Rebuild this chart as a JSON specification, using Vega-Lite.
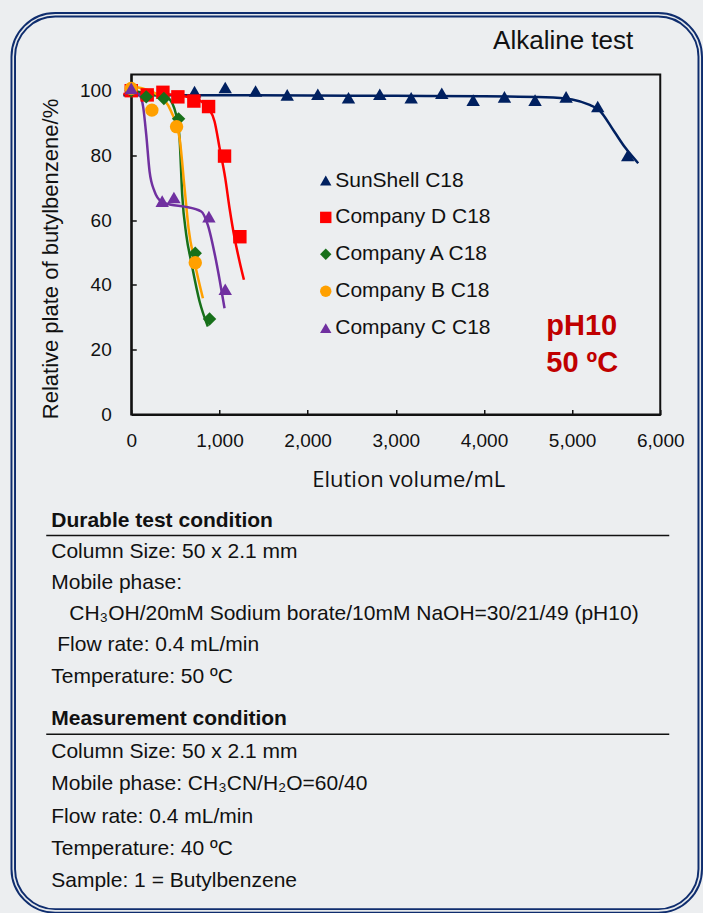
{
  "$schema": "https://vega.github.io/schema/vega-lite/v6.json",
  "background": "#eceef0",
  "padding": {"left": 9.25, "top": 10.5, "right": 0, "bottom": 0},
  "bounds": "flush",
  "spacing": 90.4,
  "config": {
    "view": {"stroke": null},
    "font": "Liberation Sans",
    "axis": {
      "grid": false,
      "labelFont": "Liberation Sans",
      "labelFontSize": 19,
      "labelColor": "#111111",
      "labelFlush": false,
      "domainColor": "#111111",
      "domainWidth": 2,
      "tickColor": "#111111",
      "tickWidth": 1.5,
      "tickSize": -5,
      "labelPadding": 22,
      "titleColor": "#111111",
      "titleFontWeight": "normal"
    }
  },
  "datasets": {
    "points": [
      {"column": "SunShell C18", "volume": 0, "plate": 100},
      {"column": "SunShell C18", "volume": 718, "plate": 99.7},
      {"column": "SunShell C18", "volume": 1066, "plate": 101},
      {"column": "SunShell C18", "volume": 1410, "plate": 99.9},
      {"column": "SunShell C18", "volume": 1769, "plate": 98.7},
      {"column": "SunShell C18", "volume": 2116, "plate": 98.9},
      {"column": "SunShell C18", "volume": 2464, "plate": 97.8},
      {"column": "SunShell C18", "volume": 2819, "plate": 98.9},
      {"column": "SunShell C18", "volume": 3175, "plate": 97.8},
      {"column": "SunShell C18", "volume": 3522, "plate": 99.2},
      {"column": "SunShell C18", "volume": 3878, "plate": 97.1},
      {"column": "SunShell C18", "volume": 4233, "plate": 98.1},
      {"column": "SunShell C18", "volume": 4580, "plate": 97.1},
      {"column": "SunShell C18", "volume": 4932, "plate": 98.1},
      {"column": "SunShell C18", "volume": 5291, "plate": 95.1},
      {"column": "SunShell C18", "volume": 5631, "plate": 80},
      {"column": "Company D C18", "volume": 0, "plate": 100},
      {"column": "Company D C18", "volume": 181, "plate": 98.7},
      {"column": "Company D C18", "volume": 359, "plate": 99.5},
      {"column": "Company D C18", "volume": 529, "plate": 98.1},
      {"column": "Company D C18", "volume": 710, "plate": 96.8},
      {"column": "Company D C18", "volume": 877, "plate": 95.1},
      {"column": "Company D C18", "volume": 1058, "plate": 79.8},
      {"column": "Company D C18", "volume": 1232, "plate": 54.9},
      {"column": "Company A C18", "volume": 0, "plate": 100},
      {"column": "Company A C18", "volume": 170, "plate": 98.1},
      {"column": "Company A C18", "volume": 370, "plate": 97.6},
      {"column": "Company A C18", "volume": 537, "plate": 91.3},
      {"column": "Company A C18", "volume": 726, "plate": 49.8},
      {"column": "Company A C18", "volume": 888, "plate": 29.5},
      {"column": "Company B C18", "volume": 0, "plate": 100.7},
      {"column": "Company B C18", "volume": 234, "plate": 94},
      {"column": "Company B C18", "volume": 514, "plate": 88.9},
      {"column": "Company B C18", "volume": 726, "plate": 46.9},
      {"column": "Company C C18", "volume": 0, "plate": 100.7},
      {"column": "Company C C18", "volume": 351, "plate": 65.9},
      {"column": "Company C C18", "volume": 484, "plate": 67},
      {"column": "Company C C18", "volume": 881, "plate": 61.1},
      {"column": "Company C C18", "volume": 1066, "plate": 38.7}
    ],
    "fits": [
      {"column": "SunShell C18", "volume": -90, "plate": 98.6},
      {"column": "SunShell C18", "volume": 1000, "plate": 98.6},
      {"column": "SunShell C18", "volume": 2000, "plate": 98.5},
      {"column": "SunShell C18", "volume": 3000, "plate": 98.4},
      {"column": "SunShell C18", "volume": 4000, "plate": 98.3},
      {"column": "SunShell C18", "volume": 4700, "plate": 98.0},
      {"column": "SunShell C18", "volume": 5000, "plate": 97.3},
      {"column": "SunShell C18", "volume": 5200, "plate": 95.6},
      {"column": "SunShell C18", "volume": 5300, "plate": 94.2},
      {"column": "SunShell C18", "volume": 5480, "plate": 87.3},
      {"column": "SunShell C18", "volume": 5600, "plate": 82.5},
      {"column": "SunShell C18", "volume": 5750, "plate": 77.6},
      {"column": "Company D C18", "volume": -90, "plate": 99},
      {"column": "Company D C18", "volume": 300, "plate": 99},
      {"column": "Company D C18", "volume": 600, "plate": 98.3},
      {"column": "Company D C18", "volume": 794, "plate": 96.7},
      {"column": "Company D C18", "volume": 877, "plate": 94.6},
      {"column": "Company D C18", "volume": 945, "plate": 90.5},
      {"column": "Company D C18", "volume": 1002, "plate": 82.3},
      {"column": "Company D C18", "volume": 1066, "plate": 73},
      {"column": "Company D C18", "volume": 1115, "plate": 63.7},
      {"column": "Company D C18", "volume": 1172, "plate": 54.5},
      {"column": "Company D C18", "volume": 1229, "plate": 47.2},
      {"column": "Company D C18", "volume": 1278, "plate": 41.6},
      {"column": "Company A C18", "volume": 19, "plate": 100},
      {"column": "Company A C18", "volume": 200, "plate": 99},
      {"column": "Company A C18", "volume": 416, "plate": 97.7},
      {"column": "Company A C18", "volume": 510, "plate": 92.5},
      {"column": "Company A C18", "volume": 548, "plate": 85.3},
      {"column": "Company A C18", "volume": 578, "plate": 67.8},
      {"column": "Company A C18", "volume": 624, "plate": 55.5},
      {"column": "Company A C18", "volume": 680, "plate": 47.2},
      {"column": "Company A C18", "volume": 775, "plate": 34.9},
      {"column": "Company A C18", "volume": 869, "plate": 27.2},
      {"column": "Company B C18", "volume": 38, "plate": 101.2},
      {"column": "Company B C18", "volume": 302, "plate": 98.7},
      {"column": "Company B C18", "volume": 454, "plate": 93.5},
      {"column": "Company B C18", "volume": 548, "plate": 85.3},
      {"column": "Company B C18", "volume": 605, "plate": 69.8},
      {"column": "Company B C18", "volume": 650, "plate": 57.5},
      {"column": "Company B C18", "volume": 718, "plate": 47.2},
      {"column": "Company B C18", "volume": 813, "plate": 35.9},
      {"column": "Company C C18", "volume": 38, "plate": 99.5},
      {"column": "Company C C18", "volume": 94, "plate": 98.7},
      {"column": "Company C C18", "volume": 135, "plate": 95},
      {"column": "Company C C18", "volume": 170, "plate": 86.4},
      {"column": "Company C C18", "volume": 208, "plate": 75},
      {"column": "Company C C18", "volume": 264, "plate": 68.9},
      {"column": "Company C C18", "volume": 340, "plate": 65.8},
      {"column": "Company C C18", "volume": 450, "plate": 64.8},
      {"column": "Company C C18", "volume": 605, "plate": 64.2},
      {"column": "Company C C18", "volume": 794, "plate": 62.7},
      {"column": "Company C C18", "volume": 869, "plate": 58.5},
      {"column": "Company C C18", "volume": 964, "plate": 47.2},
      {"column": "Company C C18", "volume": 1058, "plate": 32.8}
    ],
    "durable": [
      {"line": 0, "kind": "header", "text": "Durable test condition"},
      {"line": 1, "kind": "body", "text": "Column Size: 50 x 2.1 mm"},
      {"line": 2, "kind": "body", "text": "Mobile phase:"},
      {"line": 3, "kind": "composition", "text": "CH\u2083OH/20mM Sodium borate/10mM NaOH=30/21/49 (pH10)"},
      {"line": 4, "kind": "flow", "text": "Flow rate: 0.4 mL/min"},
      {"line": 5, "kind": "body", "text": "Temperature: 50 \u00baC"}
    ],
    "measurement": [
      {"line": 0, "kind": "header", "text": "Measurement condition"},
      {"line": 1, "kind": "body", "text": "Column Size: 50 x 2.1 mm"},
      {"line": 2, "kind": "body", "text": "Mobile phase: CH\u2083CN/H\u2082O=60/40"},
      {"line": 3, "kind": "body", "text": "Flow rate: 0.4 mL/min"},
      {"line": 4, "kind": "body", "text": "Temperature: 40 \u00baC"},
      {"line": 5, "kind": "body", "text": "Sample: 1 = Butylbenzene"}
    ]
  },
  "vconcat": [
    {
      "width": 529,
      "height": 340,
      "view": {"stroke": "#111111", "strokeWidth": 2},
      "layer": [
        {
          "data": {"name": "fits"},
          "mark": {"type": "line", "interpolate": "monotone", "strokeWidth": 2.5},
          "encoding": {
            "x": {"field": "volume", "type": "quantitative", "title": "Elution volume/mL",
                  "scale": {"domain": [0, 6000], "nice": false, "zero": false}},
            "y": {"field": "plate", "type": "quantitative", "title": "Relative plate of butylbenzene/%",
                  "scale": {"domain": [0, 105], "nice": false}},
            "stroke": {"field": "column", "type": "nominal", "legend": null,
                       "scale": {"domain": ["Company A C18", "Company B C18", "Company C C18", "Company D C18", "SunShell C18"],
                                 "range": ["#17701a", "#ffa000", "#7030a0", "#ff0000", "#002060"]}}
          }
        },
        {
          "data": {"name": "points"},
          "mark": {"type": "point", "filled": true, "size": 180, "opacity": 1},
          "encoding": {
            "x": {"field": "volume", "type": "quantitative", "title": "Elution volume/mL",
                  "scale": {"domain": [0, 6000], "nice": false, "zero": false},
                  "axis": {"values": [0, 1000, 2000, 3000, 4000, 5000, 6000], "format": ",d",
                           "titleFont": "Open Sans", "titleFontSize": 22, "titlePadding": 19, "titleX": 277}},
            "y": {"field": "plate", "type": "quantitative", "title": "Relative plate of butylbenzene/%",
                  "scale": {"domain": [0, 105], "nice": false},
                  "axis": {"values": [0, 20, 40, 60, 80, 100], "titleFont": "Liberation Sans", "titleFontSize": 22,
                           "labelPadding": 25, "titlePadding": 17, "titleY": 184}},
            "color": {"field": "column", "type": "nominal", "title": null,
                      "scale": {"domain": ["SunShell C18", "Company D C18", "Company A C18", "Company B C18", "Company C C18"],
                                "range": ["#002060", "#ff0000", "#17701a", "#ffa000", "#7030a0"]},
                      "legend": {"orient": "none", "legendX": 184, "legendY": 95.5, "padding": 0,
                                 "labelFont": "Liberation Sans", "labelFontSize": 21, "labelColor": "#111111",
                                 "labelLimit": 300, "symbolSize": 130, "symbolStrokeWidth": 0,
                                 "rowPadding": 14.9, "labelOffset": -1}},
            "shape": {"field": "column", "type": "nominal", "title": null,
                      "scale": {"domain": ["SunShell C18", "Company D C18", "Company A C18", "Company B C18", "Company C C18"],
                                "range": ["triangle-up", "square", "diamond", "circle", "triangle-up"]},
                      "legend": {"orient": "none", "legendX": 184, "legendY": 95.5, "padding": 0,
                                 "labelFont": "Liberation Sans", "labelFontSize": 21, "labelColor": "#111111",
                                 "labelLimit": 300, "symbolSize": 130, "symbolStrokeWidth": 0,
                                 "rowPadding": 14.9, "labelOffset": -1}}
          }
        },
        {
          "data": {"values": [{"note": "condition"}]},
          "mark": {"type": "text", "align": "left", "baseline": "middle", "font": "Liberation Sans",
                   "fontSize": 29, "fontWeight": "bold", "color": "#c00000", "lineHeight": 36.7},
          "encoding": {
            "x": {"datum": 4707, "type": "quantitative"},
            "y": {"datum": 27.2, "type": "quantitative"},
            "text": {"value": ["pH10", "50 \u00baC"]}
          }
        },
        {
          "data": {"values": [{"note": "title"}]},
          "mark": {"type": "text", "align": "right", "baseline": "middle", "font": "Liberation Sans",
                   "fontSize": 26, "color": "#111111"},
          "encoding": {
            "x": {"datum": 5694, "type": "quantitative"},
            "y": {"datum": 115.2, "type": "quantitative"},
            "text": {"value": "Alkaline test"}
          }
        },
        {
          "data": {"values": [{"frame": "border"}]},
          "mark": {"type": "rect", "filled": false, "stroke": "#0f2d6e", "strokeWidth": 5.5, "cornerRadius": 42},
          "encoding": {
            "x": {"datum": -1338.4, "type": "quantitative"},
            "x2": {"datum": 6453.6},
            "y": {"datum": 123.44, "type": "quantitative"},
            "y2": {"datum": -153.3}
          }
        },
        {
          "data": {"values": [{"frame": "border"}]},
          "mark": {"type": "rect", "filled": false, "stroke": "#e6e9ec", "strokeWidth": 1.6, "cornerRadius": 42},
          "encoding": {
            "x": {"datum": -1338.4, "type": "quantitative"},
            "x2": {"datum": 6453.6},
            "y": {"datum": 123.44, "type": "quantitative"},
            "y2": {"datum": -153.3}
          }
        }
      ]
    },
    {
      "bounds": "flush",
      "spacing": 10.2,
      "vconcat": [
        {
          "width": 538,
          "height": 187.2,
          "data": {"name": "durable"},
          "layer": [
            {
              "transform": [{"filter": "datum.kind === 'header'"}],
              "mark": {"type": "text", "align": "left", "baseline": "middle", "fontSize": 21, "fontWeight": "bold", "color": "#111111"},
              "encoding": {
                "x": {"datum": -0.1487, "type": "quantitative", "scale": {"domain": [0, 1], "nice": false}, "axis": null},
                "y": {"field": "line", "type": "ordinal", "sort": "ascending", "scale": {"type": "point", "padding": 0.5}, "axis": null},
                "text": {"field": "text"}
              }
            },
            {
              "transform": [{"filter": "datum.kind === 'header'"}],
              "mark": {"type": "rule", "strokeWidth": 1.5, "color": "#111111", "yOffset": 15},
              "encoding": {
                "x": {"datum": -0.158, "type": "quantitative"},
                "x2": {"datum": 1},
                "y": {"field": "line", "type": "ordinal"}
              }
            },
            {
              "transform": [{"filter": "datum.kind === 'body'"}],
              "mark": {"type": "text", "align": "left", "baseline": "middle", "fontSize": 21, "color": "#111111"},
              "encoding": {
                "x": {"datum": -0.1487, "type": "quantitative"},
                "y": {"field": "line", "type": "ordinal"},
                "text": {"field": "text"}
              }
            },
            {
              "transform": [{"filter": "datum.kind === 'composition'"}],
              "mark": {"type": "text", "align": "left", "baseline": "middle", "fontSize": 21, "color": "#111111"},
              "encoding": {
                "x": {"datum": -0.1152, "type": "quantitative"},
                "y": {"field": "line", "type": "ordinal"},
                "text": {"field": "text"}
              }
            },
            {
              "transform": [{"filter": "datum.kind === 'flow'"}],
              "mark": {"type": "text", "align": "left", "baseline": "middle", "fontSize": 21, "color": "#111111"},
              "encoding": {
                "x": {"datum": -0.1375, "type": "quantitative"},
                "y": {"field": "line", "type": "ordinal"},
                "text": {"field": "text"}
              }
            }
          ]
        },
        {
          "width": 538,
          "height": 194.4,
          "data": {"name": "measurement"},
          "layer": [
            {
              "transform": [{"filter": "datum.kind === 'header'"}],
              "mark": {"type": "text", "align": "left", "baseline": "middle", "fontSize": 21, "fontWeight": "bold", "color": "#111111"},
              "encoding": {
                "x": {"datum": -0.1487, "type": "quantitative", "scale": {"domain": [0, 1], "nice": false}, "axis": null},
                "y": {"field": "line", "type": "ordinal", "sort": "ascending", "scale": {"type": "point", "padding": 0.5}, "axis": null},
                "text": {"field": "text"}
              }
            },
            {
              "transform": [{"filter": "datum.kind === 'header'"}],
              "mark": {"type": "rule", "strokeWidth": 1.5, "color": "#111111", "yOffset": 15},
              "encoding": {
                "x": {"datum": -0.158, "type": "quantitative"},
                "x2": {"datum": 1},
                "y": {"field": "line", "type": "ordinal"}
              }
            },
            {
              "transform": [{"filter": "datum.kind === 'body'"}],
              "mark": {"type": "text", "align": "left", "baseline": "middle", "fontSize": 21, "color": "#111111"},
              "encoding": {
                "x": {"datum": -0.1487, "type": "quantitative"},
                "y": {"field": "line", "type": "ordinal"},
                "text": {"field": "text"}
              }
            }
          ]
        }
      ]
    }
  ]
}
